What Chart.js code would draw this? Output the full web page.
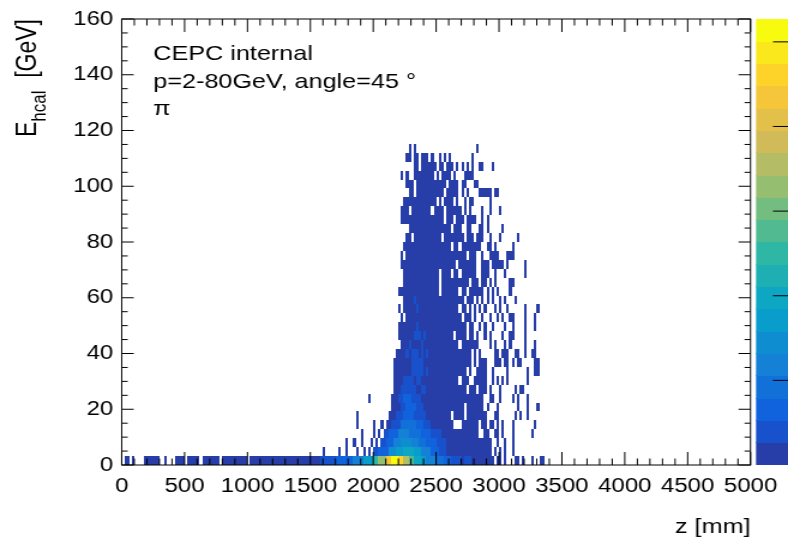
<!DOCTYPE html>
<html><head><meta charset="utf-8">
<script src="https://cdn.jsdelivr.net/npm/chart.js@4.4.1/dist/chart.umd.min.js"></script>
<style>
html,body{margin:0;padding:0;background:#fff;overflow:hidden;}
#wrap{width:657px;height:546px;transform:scaleX(1.19939);transform-origin:0 0;}
canvas{display:block;}
</style></head><body>
<div id="wrap"><canvas id="c" width="657" height="546"></canvas></div>
<script>
// ---------------- data ----------------
const xRange = [0, 5000];
const yRange = [0, 160];
const xBinWidth = 20;      // mm
const yBinWidth = 3.2;     // GeV
const xTickValues = [0,500,1000,1500,2000,2500,3000,3500,4000,4500,5000];
const yTickValues = [0,20,40,60,80,100,120,140,160];
const zTickValues = [100,200,300,400,500];
const zMax = 527;
const nContours = 20;
// Histogram content: rowRuns[r] = list of [firstXBin, lastXBin, colourLevel(1..20)] for y-bin r
const rowRuns = [
 [[1,2,1],[4,4,1],[9,14,1],[17,17,1],[21,24,1],[26,30,1],[32,38,1],[40,49,1],[51,78,1],[79,84,2],[85,91,3],[92,95,5],[96,99,7],[100,101,10],[102,104,13],[105,106,17],[107,109,20],[110,111,18],[112,113,14],[114,115,11],[116,118,8],[119,120,7],[121,124,5],[125,127,4],[128,130,3],[131,134,2],[135,135,1],[136,138,2],[139,147,1],[149,150,1],[152,152,1],[156,157,1],[159,159,1],[163,163,1],[166,167,1]],
 [[80,80,1],[86,86,1],[89,89,1],[93,93,1],[96,96,1],[98,98,1],[100,101,2],[102,105,3],[106,108,6],[109,111,7],[112,115,8],[116,118,7],[119,122,5],[123,125,3],[126,128,2],[129,146,1],[148,148,1],[150,150,1],[152,152,1],[155,155,1]],
 [[89,89,1],[92,92,1],[95,95,1],[99,99,1],[101,101,1],[103,104,2],[105,107,3],[108,110,5],[111,114,6],[115,117,5],[118,120,4],[121,124,3],[125,128,2],[129,146,1],[149,149,1],[152,152,1],[155,155,1]],
 [[95,95,1],[100,100,1],[102,102,1],[104,105,2],[106,109,3],[110,113,5],[114,118,4],[119,122,3],[123,126,2],[127,141,1],[144,145,1],[148,149,1],[151,151,1],[155,155,1],[163,163,1]],
 [[93,93,1],[100,100,1],[103,103,1],[105,106,1],[107,110,2],[111,116,4],[117,119,3],[120,122,2],[123,131,1],[135,141,1],[143,144,1],[146,147,1],[149,149,1],[151,151,1],[155,155,1],[164,164,1]],
 [[93,93,1],[106,108,1],[109,111,2],[112,115,3],[116,120,2],[121,130,1],[132,135,1],[137,144,1],[148,149,1],[156,156,1],[158,158,1],[161,161,1]],
 [[107,110,1],[111,112,2],[113,116,3],[117,119,2],[120,135,1],[137,143,1],[145,145,1],[149,149,1],[157,157,1],[161,161,1],[165,165,1]],
 [[98,98,1],[107,109,1],[110,111,2],[112,114,3],[115,118,2],[119,143,1],[146,147,1],[150,150,1],[155,155,1],[157,157,1],[161,161,1]],
 [[108,110,1],[111,116,2],[117,118,1],[119,120,2],[121,136,1],[138,140,1],[142,144,1],[146,146,1],[150,150,1],[156,156,1],[158,159,1]],
 [[108,111,1],[112,115,2],[116,116,1],[117,118,2],[119,133,1],[135,137,1],[140,144,1],[147,147,1],[149,149,1],[151,151,1],[153,153,1],[161,161,1]],
 [[108,114,1],[115,119,2],[120,120,1],[121,121,2],[122,136,1],[138,138,1],[141,144,1],[147,147,1],[153,153,1],[161,161,1],[164,165,1]],
 [[108,114,1],[115,119,2],[120,138,1],[140,140,1],[142,144,1],[148,150,1],[152,153,1],[155,155,1],[157,158,1],[164,165,1]],
 [[109,112,1],[113,113,2],[114,114,1],[115,117,2],[118,118,1],[119,119,2],[120,120,1],[121,121,2],[122,138,1],[140,140,1],[142,142,1],[148,149,1],[151,153,1],[156,157,1],[160,160,1],[163,164,1]],
 [[111,113,1],[114,114,2],[115,118,1],[119,119,2],[120,133,1],[135,141,1],[146,146,1],[148,148,1],[152,152,1],[154,154,1],[160,160,1],[164,164,1]],
 [[110,115,1],[116,118,2],[119,119,1],[120,120,2],[121,131,1],[133,136,1],[138,139,1],[141,141,1],[144,144,1],[146,146,1],[151,151,1],[154,155,1],[160,160,1]],
 [[110,116,1],[117,117,2],[118,136,1],[138,139,1],[142,142,1],[144,144,1],[147,147,1],[152,152,1],[155,155,1],[160,160,1],[164,164,1]],
 [[111,111,1],[113,134,1],[136,138,1],[140,140,1],[143,143,1],[146,146,1],[149,149,1],[151,151,1],[154,155,1],[160,160,1],[164,164,1]],
 [[110,110,1],[112,116,1],[117,117,2],[118,133,1],[135,136,1],[138,138,1],[140,140,1],[142,142,1],[144,144,1],[148,148,1],[150,150,1],[153,153,1],[160,160,1],[165,165,1]],
 [[112,115,1],[116,116,2],[117,135,1],[137,139,1],[141,141,1],[143,143,1],[145,145,1],[147,147,1],[150,150,1],[152,152,1],[156,156,1]],
 [[110,125,1],[127,133,1],[135,136,1],[138,143,1],[145,145,1],[147,147,1],[149,149,1],[154,154,1]],
 [[112,125,1],[127,137,1],[139,141,1],[143,144,1],[146,146,1],[148,148,1],[154,155,1]],
 [[112,125,1],[127,130,1],[132,133,1],[135,140,1],[143,145,1],[148,148,1],[152,152,1],[160,160,1]],
 [[111,132,1],[134,140,1],[143,145,1],[147,151,1],[153,153,1],[160,160,1]],
 [[111,111,1],[113,136,1],[138,140,1],[143,143,1],[146,149,1],[153,155,1]],
 [[112,130,1],[132,133,1],[135,142,1],[145,146,1],[148,148,1],[155,155,1]],
 [[113,114,1],[116,126,1],[128,135,1],[137,139,1],[141,143,1],[146,146,1],[150,150,1],[157,157,1]],
 [[114,130,1],[132,134,1],[137,138,1],[142,143,1],[145,145,1],[151,151,1]],
 [[111,127,1],[129,131,1],[133,135,1],[137,140,1],[143,143,1],[145,145,1]],
 [[111,113,1],[115,122,1],[124,127,1],[129,134,1],[136,136,1],[138,138,1],[143,143,1],[146,146,1],[150,150,1]],
 [[112,124,1],[126,126,1],[128,131,1],[133,133,1],[136,136,1],[138,139,1],[146,146,1]],
 [[114,115,1],[117,127,1],[129,133,1],[135,135,1],[137,137,1],[142,146,1],[148,149,1]],
 [[113,115,1],[117,128,1],[130,133,1],[135,136,1],[140,141,1]],
 [[111,111,1],[113,113,1],[116,123,1],[125,125,1],[127,130,1],[132,132,1],[136,139,1]],
 [[116,117,1],[119,124,1],[126,127,1],[129,131,1],[133,133,1],[135,135,1],[137,137,1],[139,139,1],[142,143,1],[147,147,1]],
 [[113,114,1],[116,117,1],[119,121,1],[123,123,1],[126,126,1],[128,128,1],[130,130,1],[139,139,1]],
 [[114,114,1],[116,116,1],[141,141,1]]
];
const textLines = ['CEPC internal', 'p=2-80GeV, angle=45 \u00b0', '\u03c0'];

// ---------------- layout (screen px) ----------------
const S = 788/657;
const CW = 657, CH = 546;
const P = { left:121.7/S, right:753.3/S, top:18.3, bottom:465 };
const FONT = '"Liberation Sans", Arial, Helvetica, sans-serif';

// kBird palette
const stops=[0,0.125,0.25,0.375,0.5,0.625,0.75,0.875,1];
const pr=[0.2082,0.0592,0.0780,0.0232,0.1802,0.5301,0.8186,0.9956,0.9764];
const pg=[0.1664,0.3599,0.5041,0.6419,0.7178,0.7492,0.7328,0.7862,0.9832];
const pb=[0.5293,0.8684,0.8385,0.7914,0.6425,0.4662,0.3499,0.1968,0.0539];
function bird(t){
  let i=0; while(i<stops.length-2 && t>stops[i+1]) i++;
  const f=(t-stops[i])/(stops[i+1]-stops[i]);
  const c=a=>Math.round(255*(a[i]+(a[i+1]-a[i])*f));
  return `rgb(${c(pr)},${c(pg)},${c(pb)})`;
}
const contourColors=[];
for(let i=0;i<nContours;i++){ const idx=Math.floor((i+0.99)*255/nContours); contourColors.push(bird(Math.min(idx,254)/254)); }

// expand runs into cells
const cells=[];
rowRuns.forEach((runs,r)=>{ runs.forEach(([b0,b1,lv])=>{ for(let b=b0;b<=b1;b++) cells.push({x:(b+0.5)*xBinWidth, y:(r+0.5)*yBinWidth, v:lv}); }); });

const heatmap={ id:'heatmap', beforeDatasetsDraw(chart){
  const {ctx, chartArea:a, scales:{x,y}}=chart;
  ctx.save(); ctx.beginPath(); ctx.rect(a.left,a.top,a.width,a.height); ctx.clip();
  for(const c of chart.data.datasets[0].data){
    const x0=Math.round(x.getPixelForValue(c.x-xBinWidth/2)), x1=Math.round(x.getPixelForValue(c.x+xBinWidth/2));
    const y0=Math.round(y.getPixelForValue(c.y+yBinWidth/2)), y1=Math.round(y.getPixelForValue(c.y-yBinWidth/2));
    ctx.fillStyle=contourColors[c.v-1]; ctx.fillRect(x0,y0,Math.max(1,x1-x0),y1-y0);
  }
  ctx.restore();
}};

const decor={ id:'decor', afterDatasetsDraw(chart){
  const {ctx, chartArea:a, scales:{x,y}}=chart;
  ctx.save();
  ctx.strokeStyle='#000'; ctx.lineWidth=1;
  // ticks
  const xMaj=13, xMin=6.5, yMaj=12/S, yMin=6/S;
  ctx.beginPath();
  for(let i=0;i<xTickValues.length;i++){
    const v=xTickValues[i]; const px=x.getPixelForValue(v);
    ctx.moveTo(px,a.bottom); ctx.lineTo(px,a.bottom-xMaj);
    ctx.moveTo(px,a.top); ctx.lineTo(px,a.top+xMaj);
    if(i<xTickValues.length-1){ const step=(xTickValues[i+1]-v)/5;
      for(let k=1;k<5;k++){ const q=x.getPixelForValue(v+k*step);
        ctx.moveTo(q,a.bottom); ctx.lineTo(q,a.bottom-xMin); ctx.moveTo(q,a.top); ctx.lineTo(q,a.top+xMin);} }
  }
  for(let i=0;i<yTickValues.length;i++){
    const v=yTickValues[i]; const py=y.getPixelForValue(v);
    ctx.moveTo(a.left,py); ctx.lineTo(a.left+yMaj,py);
    ctx.moveTo(a.right,py); ctx.lineTo(a.right-yMaj,py);
    if(i<yTickValues.length-1){ const step=(yTickValues[i+1]-v)/4;
      for(let k=1;k<4;k++){ const q=y.getPixelForValue(v+k*step);
        ctx.moveTo(a.left,q); ctx.lineTo(a.left+yMin,q); ctx.moveTo(a.right,q); ctx.lineTo(a.right-yMin,q);} }
  }
  ctx.stroke();
  ctx.strokeRect(a.left,a.top,a.width,a.height);
  // colour palette
  const cl=756/S, cr=CW, h=a.bottom-a.top;
  for(let i=0;i<nContours;i++){
    const t0=a.bottom-h*(i+1)/nContours, t1=a.bottom-h*i/nContours;
    ctx.fillStyle=contourColors[i]; ctx.fillRect(cl,Math.floor(t0),cr-cl,Math.ceil(t1)-Math.floor(t0));
  }
  ctx.beginPath();
  for(const z of zTickValues){ const py=a.bottom-h*z/zMax; ctx.moveTo(773/S,py); ctx.lineTo(cr,py); }
  ctx.stroke();
  // texts
  ctx.fillStyle='#000'; ctx.textAlign='left'; ctx.textBaseline='alphabetic';
  ctx.font='21px '+FONT;
  const tx=153.3/S; const ty=[60,88,115];
  textLines.forEach((s,i)=>ctx.fillText(s,tx,ty[i]));
  // y title with subscript
  ctx.save();
  ctx.translate(36/S, a.top);
  ctx.rotate(-Math.PI/2);
  const big='23px '+FONT, small='17px '+FONT;
  ctx.font=big; const wE=ctx.measureText('E').width, wG=ctx.measureText('  [GeV]').width;
  ctx.font=small; const wS=ctx.measureText('hcal').width;
  let sx=-(wE+wS+wG);
  ctx.font=big; ctx.fillText('E',sx,0); sx+=wE;
  ctx.font=small; ctx.fillText('hcal',sx,8); sx+=wS;
  ctx.font=big; ctx.fillText('  [GeV]',sx,0);
  ctx.restore();
  ctx.restore();
}};

new Chart(document.getElementById('c'),{
  type:'scatter',
  data:{datasets:[{data:cells,pointRadius:0,pointHoverRadius:0,pointHitRadius:0}]},
  options:{
    responsive:false, animation:false, devicePixelRatio:1, events:[],
    layout:{padding:{left:0,right:CW-P.right,top:P.top,bottom:0}},
    plugins:{legend:{display:false},tooltip:{enabled:false}},
    scales:{
      x:{type:'linear',min:xRange[0],max:xRange[1],
        afterBuildTicks:s=>{s.ticks=xTickValues.map(v=>({value:v}));},
        afterFit:s=>{s.height=CH-P.bottom;},
        grid:{display:false,drawTicks:false},border:{display:false},
        ticks:{font:{family:FONT,size:20},color:'#000',padding:9,maxRotation:0,autoSkip:false,callback:v=>String(v)},
        title:{display:true,text:'z [mm]',align:'end',color:'#000',font:{family:FONT,size:21},padding:{top:0,bottom:6}}},
      y:{type:'linear',min:yRange[0],max:yRange[1],
        afterBuildTicks:s=>{s.ticks=yTickValues.map(v=>({value:v}));},
        afterFit:s=>{s.width=P.left;},
        grid:{display:false,drawTicks:false},border:{display:false},
        ticks:{font:{family:FONT,size:20},color:'#000',padding:7,autoSkip:false,callback:v=>String(v)}}
    }
  },
  plugins:[heatmap,decor]
});
</script>
</body></html>
